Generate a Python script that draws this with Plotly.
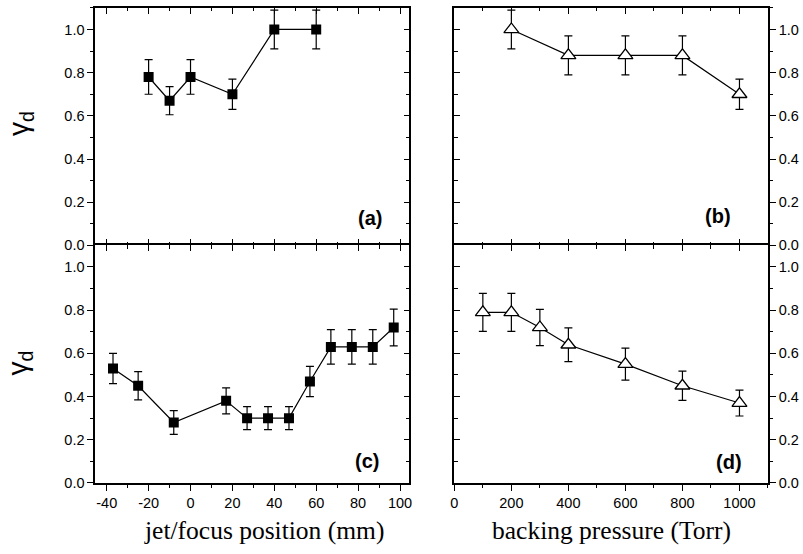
import plotly.graph_objects as go

# ---- data ----
pos_a = [-20, -10, 0, 20, 40, 60]
gam_a = [0.78, 0.67, 0.78, 0.70, 1.00, 1.00]
err_a = [0.08, 0.065, 0.08, 0.07, 0.09, 0.09]

pres_b = [200, 400, 600, 800, 1000]
gam_b = [1.00, 0.88, 0.88, 0.88, 0.70]
err_b = [0.09, 0.09, 0.09, 0.09, 0.07]

pos_c = [-37, -25, -8, 17, 27, 37, 47, 57, 67, 77, 87, 97]
gam_c = [0.53, 0.45, 0.28, 0.38, 0.30, 0.30, 0.30, 0.47, 0.63, 0.63, 0.63, 0.72]
err_c = [0.07, 0.065, 0.055, 0.06, 0.053, 0.053, 0.053, 0.07, 0.08, 0.08, 0.08, 0.085]

pres_d = [100, 200, 300, 400, 600, 800, 1000]
gam_d = [0.79, 0.79, 0.72, 0.64, 0.55, 0.45, 0.37]
err_d = [0.088, 0.088, 0.084, 0.078, 0.074, 0.068, 0.06]

pos_ticks = [-40, -20, 0, 20, 40, 60, 80, 100]
pos_ticktext = ["-40", "-20", "0", "20", "40", "60", "80", "100"]
pres_ticks = [0, 200, 400, 600, 800, 1000]
pres_ticktext = ["0", "200", "400", "600", "800", "1000"]
gam_ticks = [0.0, 0.2, 0.4, 0.6, 0.8, 1.0]
gam_ticktext = ["0.0", "0.2", "0.4", "0.6", "0.8", "1.0"]

panel_labels = ["(a)", "(b)", "(c)", "(d)"]
xtitle_left = "jet/focus position (mm)"
xtitle_right = "backing pressure (Torr)"
ytitle = "γ<sub>d</sub>"

# ---- layout geometry ----
W, H = 803, 554
LW = 1.6
XL = [92 / W, 409 / W]
XR = [454.3 / W, 770.7 / W]
YT = [(H - 249) / H, (H - 8) / H]
YB = [(H - 490) / H, (H - 249) / H]
XRANGE_L = [-45.5, 104.5]
XRANGE_R = [0, 1100]
YRANGE = [0, 1.1]

TICKFONT = dict(family="Liberation Sans, Arial, sans-serif", size=14.5, color="black")
BLACK = "black"

fig = go.Figure()


def add_series(x, y, e, xa, ya, square):
    if square:
        marker = dict(symbol="square", size=10, color=BLACK, line=dict(width=0))
    else:
        marker = dict(symbol="triangle-up", size=13, color="white",
                      line=dict(width=1.3, color=BLACK))
    fig.add_trace(go.Scatter(
        x=x, y=y, xaxis=xa, yaxis=ya, mode="lines+markers",
        line=dict(color=BLACK, width=1.2), marker=marker,
        error_y=dict(type="data", array=e, visible=True, color=BLACK,
                     thickness=1.2, width=4),
        showlegend=False, hoverinfo="x+y"))


add_series(pos_a, gam_a, err_a, "x", "y", True)
add_series(pres_b, gam_b, err_b, "x2", "y2", False)
add_series(pos_c, gam_c, err_c, "x3", "y3", True)
add_series(pres_d, gam_d, err_d, "x4", "y4", False)

# empty traces to activate the extra frame / tick axes
for xa, ya in [("x", "y5"), ("x2", "y6"), ("x3", "y7"), ("x4", "y8"),
               ("x9", "y3"), ("x10", "y4"), ("x11", "y"), ("x12", "y2")]:
    fig.add_trace(go.Scatter(x=[None], y=[None], xaxis=xa, yaxis=ya,
                             mode="markers", showlegend=False, hoverinfo="skip"))


def xax(domain, rng, anchor, ticks, labels, tickvals, ticktext, minor_dtick, mirror, side="bottom",
        overlaying=None, showline=True):
    d = dict(domain=domain, range=rng, anchor=anchor, side=side,
             showgrid=False, zeroline=False, showline=showline, linecolor=BLACK, linewidth=LW,
             ticks=ticks, ticklen=6, tickwidth=1.2, tickcolor=BLACK,
             tickmode="array", tickvals=tickvals, ticktext=ticktext,
             showticklabels=labels, tickfont=TICKFONT,
             minor=dict(ticks=ticks, ticklen=3.5, tickwidth=1, tickcolor=BLACK,
                        dtick=minor_dtick, tick0=0, showgrid=False),
             mirror=mirror, fixedrange=True)
    if overlaying:
        d["overlaying"] = overlaying
        d.pop("domain")
    return d


def yax(domain, anchor, ticks, labels, side, mirror, overlaying=None):
    d = dict(domain=domain, range=YRANGE, anchor=anchor, side=side,
             showgrid=False, zeroline=False, showline=True, linecolor=BLACK, linewidth=LW,
             ticks=ticks, ticklen=6, tickwidth=1.2, tickcolor=BLACK,
             tickmode="array", tickvals=gam_ticks, ticktext=gam_ticktext,
             showticklabels=labels, tickfont=TICKFONT,
             minor=dict(ticks=ticks, ticklen=3.5, tickwidth=1, tickcolor=BLACK,
                        dtick=0.1, tick0=0, showgrid=False),
             mirror=mirror, fixedrange=True)
    if overlaying:
        d["overlaying"] = overlaying
        d.pop("domain")
    return d


fig.update_layout(
    # panel a (bottom edge line comes from panel c's top line)
    xaxis=xax(XL, XRANGE_L, "y", "inside", False, pos_ticks, pos_ticktext, 10, False, showline=False),
    xaxis11=xax(XL, XRANGE_L, "y", "inside", False, pos_ticks, pos_ticktext, 10, False, side="top", overlaying="x"),
    yaxis=yax(YT, "x", "outside", True, "left", True),
    yaxis5=yax(YT, "x", "inside", False, "right", False, overlaying="y"),
    # panel b
    xaxis2=xax(XR, XRANGE_R, "y2", "inside", False, pres_ticks, pres_ticktext, 100, False, showline=False),
    xaxis12=xax(XR, XRANGE_R, "y2", "inside", False, pres_ticks, pres_ticktext, 100, False, side="top", overlaying="x2"),
    yaxis2=yax(YT, "x2", "outside", True, "right", True),
    yaxis6=yax(YT, "x2", "inside", False, "left", False, overlaying="y2"),
    # panel c
    xaxis3=xax(XL, XRANGE_L, "y3", "outside", True, pos_ticks, pos_ticktext, 10, True),
    yaxis3=yax(YB, "x3", "outside", True, "left", True),
    yaxis7=yax(YB, "x3", "inside", False, "right", False, overlaying="y3"),
    xaxis9=xax(XL, XRANGE_L, "y3", "inside", False, pos_ticks, pos_ticktext, 10, False, side="top", overlaying="x3"),
    # panel d
    xaxis4=xax(XR, XRANGE_R, "y4", "outside", True, pres_ticks, pres_ticktext, 100, True),
    yaxis4=yax(YB, "x4", "outside", True, "right", True),
    yaxis8=yax(YB, "x4", "inside", False, "left", False, overlaying="y4"),
    xaxis10=xax(XR, XRANGE_R, "y4", "inside", False, pres_ticks, pres_ticktext, 100, False, side="top", overlaying="x4"),
)

annotations = []
# panel labels
for lab, xa, ya, xv, yv in [(panel_labels[0], "x", "y", 92.2, 0.126),
                            (panel_labels[1], "x2", "y2", 976, 0.134),
                            (panel_labels[2], "x3", "y3", 90.8, 0.10),
                            (panel_labels[3], "x4", "y4", 1016, 0.098)]:
    annotations.append(dict(text=f"<b>{lab}</b>", xref=xa, yref=ya, x=xv, y=yv,
                            xanchor="right", yanchor="middle", showarrow=False,
                            font=dict(family="Liberation Sans, Arial, sans-serif", size=20, color=BLACK)))
# y titles
for yc in [(H - 125) / H, (H - 368) / H]:
    annotations.append(dict(text=ytitle, xref="paper", yref="paper", x=16 / W, y=yc,
                            xanchor="center", yanchor="middle", showarrow=False, textangle=-90,
                            font=dict(family="Liberation Sans, Arial, sans-serif", size=28, color=BLACK)))
# x titles
annotations.append(dict(text=xtitle_left, xref="paper", yref="paper", x=262 / W, y=(H - 538) / H,
                        xanchor="center", yanchor="middle", showarrow=False,
                        font=dict(family="Liberation Serif, Times New Roman, serif", size=25.5, color=BLACK)))
annotations.append(dict(text=xtitle_right, xref="paper", yref="paper", x=613 / W, y=(H - 538) / H,
                        xanchor="center", yanchor="middle", showarrow=False,
                        font=dict(family="Liberation Serif, Times New Roman, serif", size=25.5, color=BLACK)))

fig.update_layout(
    annotations=annotations,
    width=W, height=H, autosize=False,
    margin=dict(l=0, r=0, t=0, b=0),
    paper_bgcolor="white", plot_bgcolor="white",
    showlegend=False,
)

fig.write_html("out.html", include_plotlyjs=True, config={"displayModeBar": False},
               post_script="document.body.style.margin='0';document.body.style.overflow='hidden';")
